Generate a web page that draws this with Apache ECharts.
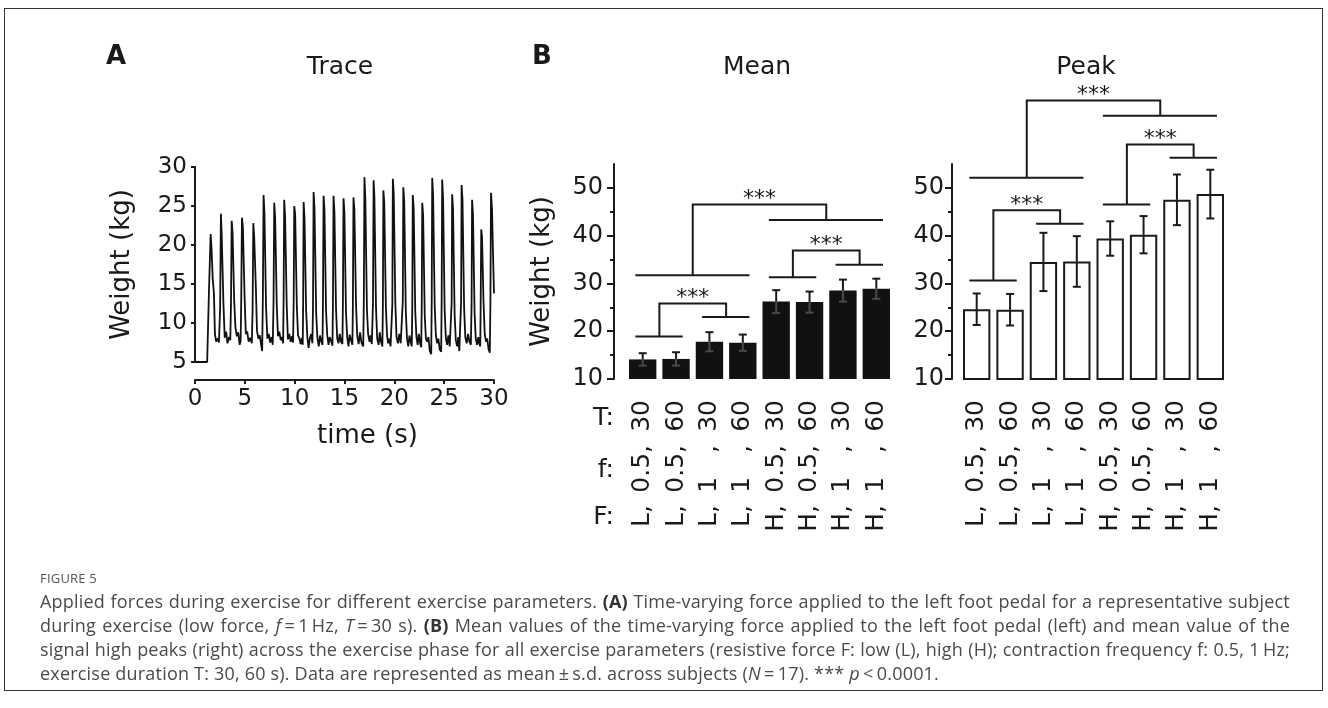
<!DOCTYPE html>
<html>
<head>
<meta charset="utf-8">
<script src="https://cdn.jsdelivr.net/npm/echarts@6/dist/echarts.min.js"></script>
<style>
  body { margin: 0; background: #fff; }
  #wrap { position: relative; width: 1328px; height: 708px; overflow: hidden; }
  #chart { position: absolute; left: 0; top: 0; width: 1328px; height: 708px; }
  #frame { position: absolute; left: 4px; top: 8px; width: 1319px; height: 683px; border: 1.5px solid #333; box-sizing: border-box; pointer-events: none; }
  #caption { position: absolute; left: 40px; top: 567px; width: 1250px; font-family: "Open Sans", Lato, sans-serif; color: #4a4a4a; }
  #caption .fig { font-size: 13px; line-height: 22px; letter-spacing: 0.2px; color: #555; }
  #caption .ln { font-size: 18px; line-height: 24px; letter-spacing: 0.2px; text-align: justify; text-align-last: justify; white-space: nowrap; }
  #caption .last { font-size: 18px; line-height: 24px; letter-spacing: 0.2px; white-space: nowrap; }
  #caption b { font-weight: 700; color: #333; }
</style>
</head>
<body>
<div id="wrap">
  <div id="chart"></div>
  <div id="frame"></div>
  <div id="caption">
    <div class="fig">FIGURE 5</div>
    <div class="ln">Applied forces during exercise for different exercise parameters. <b>(A)</b> Time-varying force applied to the left foot pedal for a representative subject</div>
    <div class="ln">during exercise (low force, <i>f</i>&thinsp;=&thinsp;1&thinsp;Hz, <i>T</i>&thinsp;=&thinsp;30 s). <b>(B)</b> Mean values of the time-varying force applied to the left foot pedal (left) and mean value of the</div>
    <div class="ln">signal high peaks (right) across the exercise phase for all exercise parameters (resistive force F: low (L), high (H); contraction frequency f: 0.5, 1&thinsp;Hz;</div>
    <div class="last">exercise duration T: 30, 60 s). Data are represented as mean&thinsp;±&thinsp;s.d. across subjects (<i>N</i>&thinsp;=&thinsp;17). *** <i>p</i>&thinsp;&lt;&thinsp;0.0001.</div>
  </div>
</div>

<script>
  // trace of panel A, [time (s), weight (kg)]
  var tracePoints = [
    [0, 5.0], [0.6, 5.0], [1.22, 5.0], [1.4, 14.0], [1.57, 21.4], [1.66, 19.5], [1.78, 15.6], [1.9, 13.8], [2.0, 8.6], [2.12, 7.6], [2.26, 8.0], [2.4, 7.5],
    [2.52, 11.8], [2.6, 24.0], [2.68, 21.2], [2.85, 12.6], [2.98, 8.1], [3.12, 8.9], [3.26, 7.4], [3.42, 8.2], [3.54, 7.8],
    [3.61, 12.4], [3.68, 23.1], [3.77, 21.6], [3.93, 12.9], [4.06, 9.4], [4.2, 8.3], [4.34, 8.8], [4.48, 7.2], [4.58, 7.7],
    [4.64, 13.0], [4.71, 23.5], [4.8, 22.4], [4.98, 13.2], [5.1, 8.6], [5.24, 8.9], [5.38, 7.6], [5.52, 8.1], [5.7, 7.4],
    [5.78, 11.7], [5.85, 22.8], [5.94, 21.0], [6.1, 14.8], [6.22, 9.0], [6.36, 8.0], [6.5, 8.4], [6.64, 7.2], [6.74, 6.4],
    [6.81, 13.5], [6.88, 26.4], [6.97, 24.0], [7.13, 12.0], [7.26, 8.0], [7.4, 8.6], [7.54, 7.5], [7.68, 8.2], [7.8, 7.2],
    [7.88, 12.6], [7.95, 25.4], [8.04, 23.5], [8.2, 12.5], [8.32, 8.3], [8.46, 8.9], [8.6, 7.8], [8.74, 8.2], [8.84, 7.4],
    [8.89, 13.0], [8.95, 25.8], [9.04, 23.6], [9.2, 12.4], [9.32, 7.9], [9.46, 8.6], [9.6, 7.6], [9.74, 8.3], [9.84, 7.5],
    [9.9, 12.8], [9.96, 25.0], [10.05, 23.9], [10.22, 12.0], [10.34, 8.4], [10.48, 8.0], [10.6, 7.3], [10.72, 8.1], [10.81, 7.2],
    [10.85, 12.4], [10.9, 25.5], [10.99, 23.4], [11.15, 11.6], [11.27, 8.2], [11.4, 6.8], [11.52, 8.0], [11.66, 8.6], [11.78, 7.4],
    [11.84, 12.2], [11.9, 26.8], [11.99, 24.6], [12.16, 11.2], [12.28, 8.1], [12.42, 7.0], [12.54, 8.4], [12.68, 7.6], [12.79, 7.2],
    [12.84, 12.6], [12.9, 26.3], [12.99, 24.5], [13.15, 11.5], [13.27, 8.4], [13.4, 7.2], [13.52, 8.2], [13.66, 7.7], [13.79, 7.1],
    [13.84, 12.2], [13.9, 26.3], [13.99, 24.2], [14.15, 11.8], [14.27, 8.0], [14.4, 7.4], [14.52, 8.6], [14.66, 7.6], [14.79, 7.3],
    [14.84, 12.5], [14.9, 26.0], [14.99, 24.2], [15.15, 11.4], [15.27, 8.2], [15.4, 7.0], [15.52, 8.5], [15.66, 7.8], [15.79, 7.2],
    [15.84, 12.0], [15.9, 26.1], [15.99, 24.6], [16.16, 12.2], [16.28, 8.3], [16.42, 7.3], [16.56, 8.8], [16.7, 7.5], [16.88, 7.0],
    [16.94, 13.0], [17.0, 28.7], [17.09, 26.0], [17.25, 11.8], [17.37, 8.6], [17.5, 7.6], [17.62, 8.4], [17.74, 7.3], [17.82, 7.2],
    [17.86, 12.6], [17.92, 28.3], [18.0, 26.2], [18.16, 12.0], [18.28, 8.0], [18.42, 7.2], [18.54, 8.8], [18.66, 7.6], [18.8, 7.0],
    [18.85, 12.2], [18.9, 27.0], [18.99, 25.4], [19.15, 12.2], [19.27, 8.4], [19.38, 7.4], [19.5, 8.0], [19.62, 7.0], [19.75, 6.8],
    [19.8, 12.4], [19.85, 28.5], [19.94, 26.6], [20.1, 12.6], [20.22, 8.2], [20.36, 7.4], [20.5, 8.6], [20.64, 7.4], [20.8, 7.2],
    [20.85, 12.8], [20.9, 27.4], [20.99, 25.6], [21.15, 11.6], [21.27, 8.0], [21.4, 7.0], [21.52, 8.4], [21.64, 7.6], [21.75, 7.0],
    [21.8, 12.0], [21.85, 26.4], [21.94, 24.8], [22.1, 11.4], [22.22, 8.2], [22.34, 7.2], [22.46, 8.6], [22.6, 7.3], [22.7, 6.9],
    [22.75, 12.4], [22.8, 25.4], [22.89, 23.8], [23.05, 11.0], [23.17, 8.0], [23.3, 7.6], [23.42, 8.2], [23.56, 6.4], [23.7, 6.0],
    [23.75, 12.8], [23.8, 28.6], [23.89, 26.4], [24.05, 12.2], [24.17, 8.4], [24.3, 7.4], [24.42, 8.0], [24.56, 6.6], [24.7, 6.3],
    [24.75, 13.2], [24.8, 28.4], [24.89, 26.0], [25.05, 11.6], [25.17, 8.0], [25.3, 7.2], [25.42, 8.4], [25.56, 7.0], [25.7, 6.8],
    [25.75, 12.6], [25.8, 26.5], [25.89, 24.6], [26.05, 11.0], [26.17, 7.8], [26.3, 7.0], [26.42, 8.2], [26.52, 6.4], [26.64, 6.2],
    [26.7, 12.8], [26.75, 27.7], [26.84, 25.8], [27.0, 12.0], [27.12, 8.2], [27.26, 7.4], [27.4, 8.6], [27.54, 7.6], [27.68, 7.2],
    [27.75, 12.4], [27.8, 25.8], [27.89, 24.0], [28.05, 11.4], [28.17, 8.0], [28.3, 7.2], [28.42, 8.2], [28.52, 7.4], [28.62, 7.0],
    [28.66, 12.0], [28.72, 22.0], [28.8, 21.0], [28.95, 12.6], [29.07, 8.6], [29.2, 7.6], [29.32, 8.0], [29.46, 6.6], [29.58, 6.2],
    [29.64, 12.6], [29.7, 26.7], [29.8, 24.6], [29.9, 19.0], [30.0, 13.8]
  ];

  // panel B categories: three label rows per bar
  var durationLabels = ['30', '60', '30', '60', '30', '60', '30', '60'];
  var freqLabels = ['0.5,', '0.5,', '1   ,', '1   ,', '0.5,', '0.5,', '1   ,', '1   ,'];
  var forceLabels = ['L,', 'L,', 'L,', 'L,', 'H,', 'H,', 'H,', 'H,'];

  var meanValues = [14.1, 14.2, 17.8, 17.6, 26.2, 26.1, 28.5, 28.9];
  var meanSd = [1.3, 1.4, 2.0, 1.7, 2.4, 2.2, 2.3, 2.1];
  var peakValues = [24.6, 24.5, 34.5, 34.6, 39.4, 40.2, 47.5, 48.7];
  var peakSd = [3.3, 3.3, 6.1, 5.3, 3.6, 3.9, 5.3, 5.1];

  var barTicks = [10, 20, 30, 40, 50];
  var barMinorTicks = [15, 25, 35, 45];

  // significance brackets: [left from, left to, left y, right from, right to, right y, top y]
  var meanBrackets = [
    [0, 1, 18.9, 2, 3, 23.0, 25.8],
    [4, 5, 31.3, 6, 7, 33.9, 36.9],
    [0, 3, 31.7, 4, 7, 43.3, 46.5]
  ];
  var peakBrackets = [
    [0, 1, 30.6, 2, 3, 42.5, 45.3],
    [4, 5, 46.5, 6, 7, 56.3, 59.1],
    [0, 3, 52.1, 4, 7, 65.1, 68.3]
  ];

  var FONT = '"DejaVu Sans", Verdana, sans-serif';
  var INK = '#1a1a1a';

  var myChart = echarts.init(document.getElementById('chart'));

  function errorBars(innerColor) {
    return function (params, api) {
      var x = api.value(0), m = api.value(1), s = api.value(2);
      var top = api.coord([x, m + s]);
      var mid = api.coord([x, m]);
      var bot = api.coord([x, m - s]);
      var w = 4;
      var up = { stroke: INK, lineWidth: 2 };
      var down = { stroke: innerColor, lineWidth: 2 };
      return {
        type: 'group',
        children: [
          { type: 'line', shape: { x1: top[0], y1: top[1], x2: mid[0], y2: mid[1] }, style: up },
          { type: 'line', shape: { x1: top[0] - w, y1: top[1], x2: top[0] + w, y2: top[1] }, style: up },
          { type: 'line', shape: { x1: mid[0], y1: mid[1], x2: bot[0], y2: bot[1] }, style: down },
          { type: 'line', shape: { x1: bot[0] - w, y1: bot[1], x2: bot[0] + w, y2: bot[1] }, style: down }
        ]
      };
    };
  }

  function bracket(params, api) {
    var a0 = api.value(0), a1 = api.value(1), ay = api.value(2);
    var b0 = api.value(3), b1 = api.value(4), by = api.value(5), ty = api.value(6);
    var am = (a0 + a1) / 2, bm = (b0 + b1) / 2;
    var st = { stroke: INK, lineWidth: 2, fill: null };
    var c = api.coord([(am + bm) / 2, ty]);
    return {
      type: 'group',
      children: [
        { type: 'polyline', shape: { points: [api.coord([a0 - 0.22, ay]), api.coord([a1 + 0.2, ay])] }, style: st },
        { type: 'polyline', shape: { points: [api.coord([b0 - 0.22, by]), api.coord([b1 + 0.2, by])] }, style: st },
        { type: 'polyline', shape: { points: [api.coord([am, ay]), api.coord([am, ty]), api.coord([bm, ty]), api.coord([bm, by])] }, style: st },
        { type: 'text', x: c[0], y: c[1] - 5, style: { text: '***', fill: INK, font: '22px ' + FONT, textAlign: 'center', textVerticalAlign: 'middle' } }
      ]
    };
  }

  function rowAxis(grid, labels, margin) {
    return {
      type: 'category', gridIndex: grid, data: labels, boundaryGap: true, position: 'bottom',
      axisLine: { show: false, onZero: false }, axisTick: { show: false },
      axisLabel: { rotate: 90, margin: margin, fontSize: 25, fontFamily: FONT, color: INK, interval: 0 }
    };
  }

  function mainY(grid, name) {
    return {
      type: 'value', gridIndex: grid, min: 10, max: 55, position: 'left',
      offset: grid === 1 ? 12 : 8,
      name: name, nameLocation: 'middle', nameGap: 59, nameRotate: 90,
      nameTextStyle: { fontSize: 26, fontFamily: FONT, color: INK },
      axisLine: { show: true, onZero: false, lineStyle: { color: INK, width: 2 } },
      axisTick: { show: true, length: 7, lineStyle: { color: INK, width: 2 }, customValues: barTicks },
      axisLabel: { fontSize: 24, fontFamily: FONT, color: INK, margin: grid === 1 ? 11 : 8, customValues: barTicks },
      splitLine: { show: false }
    };
  }

  function minorY(grid) {
    return {
      type: 'value', gridIndex: grid, min: 10, max: 55, position: 'left',
      offset: grid === 1 ? 12 : 8,
      axisLine: { show: false, onZero: false },
      axisTick: { show: true, length: 4, lineStyle: { color: INK, width: 2 }, customValues: barMinorTicks },
      axisLabel: { show: false },
      splitLine: { show: false }
    };
  }

  var idx = durationLabels.map(function (d, i) { return i; });

  var option = {
    animation: false,
    backgroundColor: '#fff',
    textStyle: { fontFamily: FONT },
    title: [
      { text: 'A', left: 106, top: 44, padding: 0, textStyle: { fontSize: 26, fontWeight: 'bold', fontFamily: FONT, color: INK } },
      { text: 'Trace', left: 340, top: 55, padding: 0, textAlign: 'center', textStyle: { fontSize: 25, fontWeight: 'normal', fontFamily: FONT, color: INK } },
      { text: 'B', left: 532, top: 44, padding: 0, textStyle: { fontSize: 26, fontWeight: 'bold', fontFamily: FONT, color: INK } },
      { text: 'Mean', left: 757, top: 55, padding: 0, textAlign: 'center', textStyle: { fontSize: 25, fontWeight: 'normal', fontFamily: FONT, color: INK } },
      { text: 'Peak', left: 1086, top: 55, padding: 0, textAlign: 'center', textStyle: { fontSize: 25, fontWeight: 'normal', fontFamily: FONT, color: INK } }
    ],
    graphic: [
      { type: 'text', x: 614, y: 418, style: { text: 'T:', font: '25px ' + FONT, fill: INK, textAlign: 'right', textVerticalAlign: 'middle' } },
      { type: 'text', x: 614, y: 470, style: { text: 'f:', font: '25px ' + FONT, fill: INK, textAlign: 'right', textVerticalAlign: 'middle' } },
      { type: 'text', x: 614, y: 517, style: { text: 'F:', font: '25px ' + FONT, fill: INK, textAlign: 'right', textVerticalAlign: 'middle' } }
    ],
    grid: [
      { left: 195, top: 167, width: 299, height: 195 },
      { left: 626, top: 164, width: 267, height: 215 },
      { left: 960, top: 164, width: 267, height: 215 }
    ],
    xAxis: [
      {
        type: 'value', gridIndex: 0, min: 0, max: 30, interval: 5, offset: 18, position: 'bottom',
        name: 'time (s)', nameLocation: 'middle', nameGap: 43,
        nameTextStyle: { fontSize: 26, fontFamily: FONT, color: INK, padding: [0, 0, 0, 46] },
        axisLine: { show: true, onZero: false, lineStyle: { color: INK, width: 2 } },
        axisTick: { show: true, length: 4, lineStyle: { color: INK, width: 2 } },
        axisLabel: { fontSize: 23, fontFamily: FONT, color: INK, margin: 8 },
        splitLine: { show: false }
      },
      rowAxis(1, durationLabels, 21),
      rowAxis(1, freqLabels, 66),
      rowAxis(1, forceLabels, 126),
      { type: 'value', gridIndex: 1, min: -0.5, max: 7.5, show: false, position: 'top' },
      rowAxis(2, durationLabels, 21),
      rowAxis(2, freqLabels, 66),
      rowAxis(2, forceLabels, 126),
      { type: 'value', gridIndex: 2, min: -0.5, max: 7.5, show: false, position: 'top' }
    ],
    yAxis: [
      {
        type: 'value', gridIndex: 0, min: 5, max: 30, interval: 5, position: 'left',
        name: 'Weight (kg)', nameLocation: 'middle', nameGap: 60, nameRotate: 90,
        nameTextStyle: { fontSize: 26, fontFamily: FONT, color: INK },
        axisLine: { show: true, onZero: false, lineStyle: { color: INK, width: 2 } },
        axisTick: { show: true, length: 4, lineStyle: { color: INK, width: 2 } },
        axisLabel: { fontSize: 23, fontFamily: FONT, color: INK, margin: 8 },
        splitLine: { show: false }
      },
      mainY(1, 'Weight (kg)'),
      minorY(1),
      mainY(2, ''),
      minorY(2)
    ],
    series: [
      {
        type: 'line', xAxisIndex: 0, yAxisIndex: 0, data: tracePoints,
        showSymbol: false, symbol: 'none', lineStyle: { color: '#111', width: 1.8 }
      },
      {
        type: 'bar', xAxisIndex: 1, yAxisIndex: 1, data: meanValues, barWidth: '82%',
        itemStyle: { color: '#111' }
      },
      {
        type: 'custom', xAxisIndex: 1, yAxisIndex: 1, z: 5,
        data: idx.map(function (i) { return [i, meanValues[i], meanSd[i]]; }),
        renderItem: errorBars('#4a4a4a')
      },
      {
        type: 'custom', xAxisIndex: 4, yAxisIndex: 1, z: 5, clip: false,
        data: meanBrackets, renderItem: bracket
      },
      {
        type: 'bar', xAxisIndex: 5, yAxisIndex: 3, data: peakValues, barWidth: '82%',
        itemStyle: { color: '#fff', borderColor: INK, borderWidth: 2 }
      },
      {
        type: 'custom', xAxisIndex: 5, yAxisIndex: 3, z: 5,
        data: idx.map(function (i) { return [i, peakValues[i], peakSd[i]]; }),
        renderItem: errorBars(INK)
      },
      {
        type: 'custom', xAxisIndex: 8, yAxisIndex: 3, z: 5, clip: false,
        data: peakBrackets, renderItem: bracket
      }
    ]
  };

  myChart.setOption(option);
  window.onresize = myChart.resize;
</script>
</body>
</html>
